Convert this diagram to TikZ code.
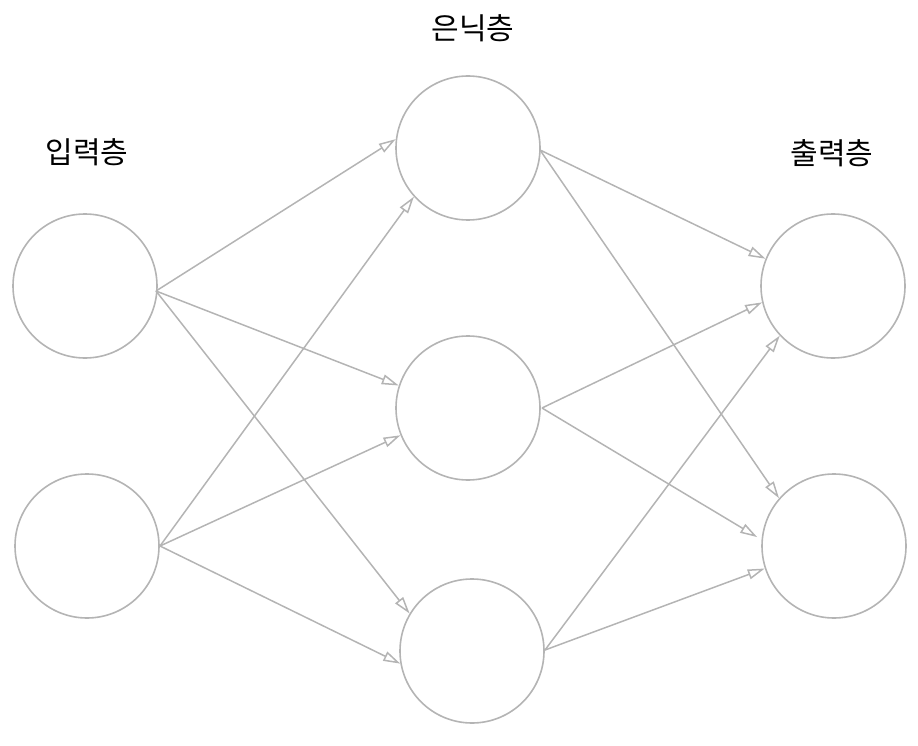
\documentclass[tikz,border=0pt]{standalone}
\usepackage{fontspec}
\newfontfamily\kr{Noto Sans CJK KR}
\usetikzlibrary{arrows.meta}
\definecolor{ln}{RGB}{180,180,180}
\tikzset{
  neuron/.style={circle,draw=ln,line width=1.6pt,minimum size=144pt,inner sep=0pt},
  layerlabel/.style={font=\kr\fontsize{30}{33}\selectfont,text=black,inner sep=0pt},
  conn/.style={draw=ln,line width=1.5pt,-{Triangle[open,length=17pt,width=10pt]}}
}
\begin{document}
\begin{tikzpicture}[x=1pt,y=-1pt]
\useasboundingbox (0,0) rectangle (918,746);
\node[neuron] (i1) at (85,286) {};
\node[neuron] (i2) at (87,546) {};
\node[neuron] (h1) at (468,148) {};
\node[neuron] (h2) at (468,408) {};
\node[neuron] (h3) at (472,651) {};
\node[neuron] (o1) at (833,286) {};
\node[neuron] (o2) at (834,546) {};
\node[layerlabel] (li) at (87,152) {입력층};
\node[layerlabel] (lh) at (473,28) {은닉층};
\node[layerlabel] (lo) at (832,153) {출력층};
\coordinate (si1) at (156,291);
\coordinate (si2) at (160,546);
\coordinate (sh1) at (540,150);
\coordinate (sh2) at (542,408);
\coordinate (sh3) at (545,650);
\draw[conn] (si1) -- (h1.173);
\draw[conn] (si1) -- (h2.162);
\draw[conn] (si1) -- (h3.149);
\draw[conn] (si2) -- (h1.222);
\draw[conn] (si2) -- (h2.202);
\draw[conn] (si2) -- (h3.190);
\draw[conn] (sh1) -- (o1.158);
\draw[conn] (sh1) -- (o2.139.5);
\draw[conn] (sh2) -- (o1.193);
\draw[conn,shorten >=5pt] (sh2) -- (o2.175);
\draw[conn] (sh3) -- (o1.223);
\draw[conn] (sh3) -- (o2.198);
\end{tikzpicture}
\end{document}
